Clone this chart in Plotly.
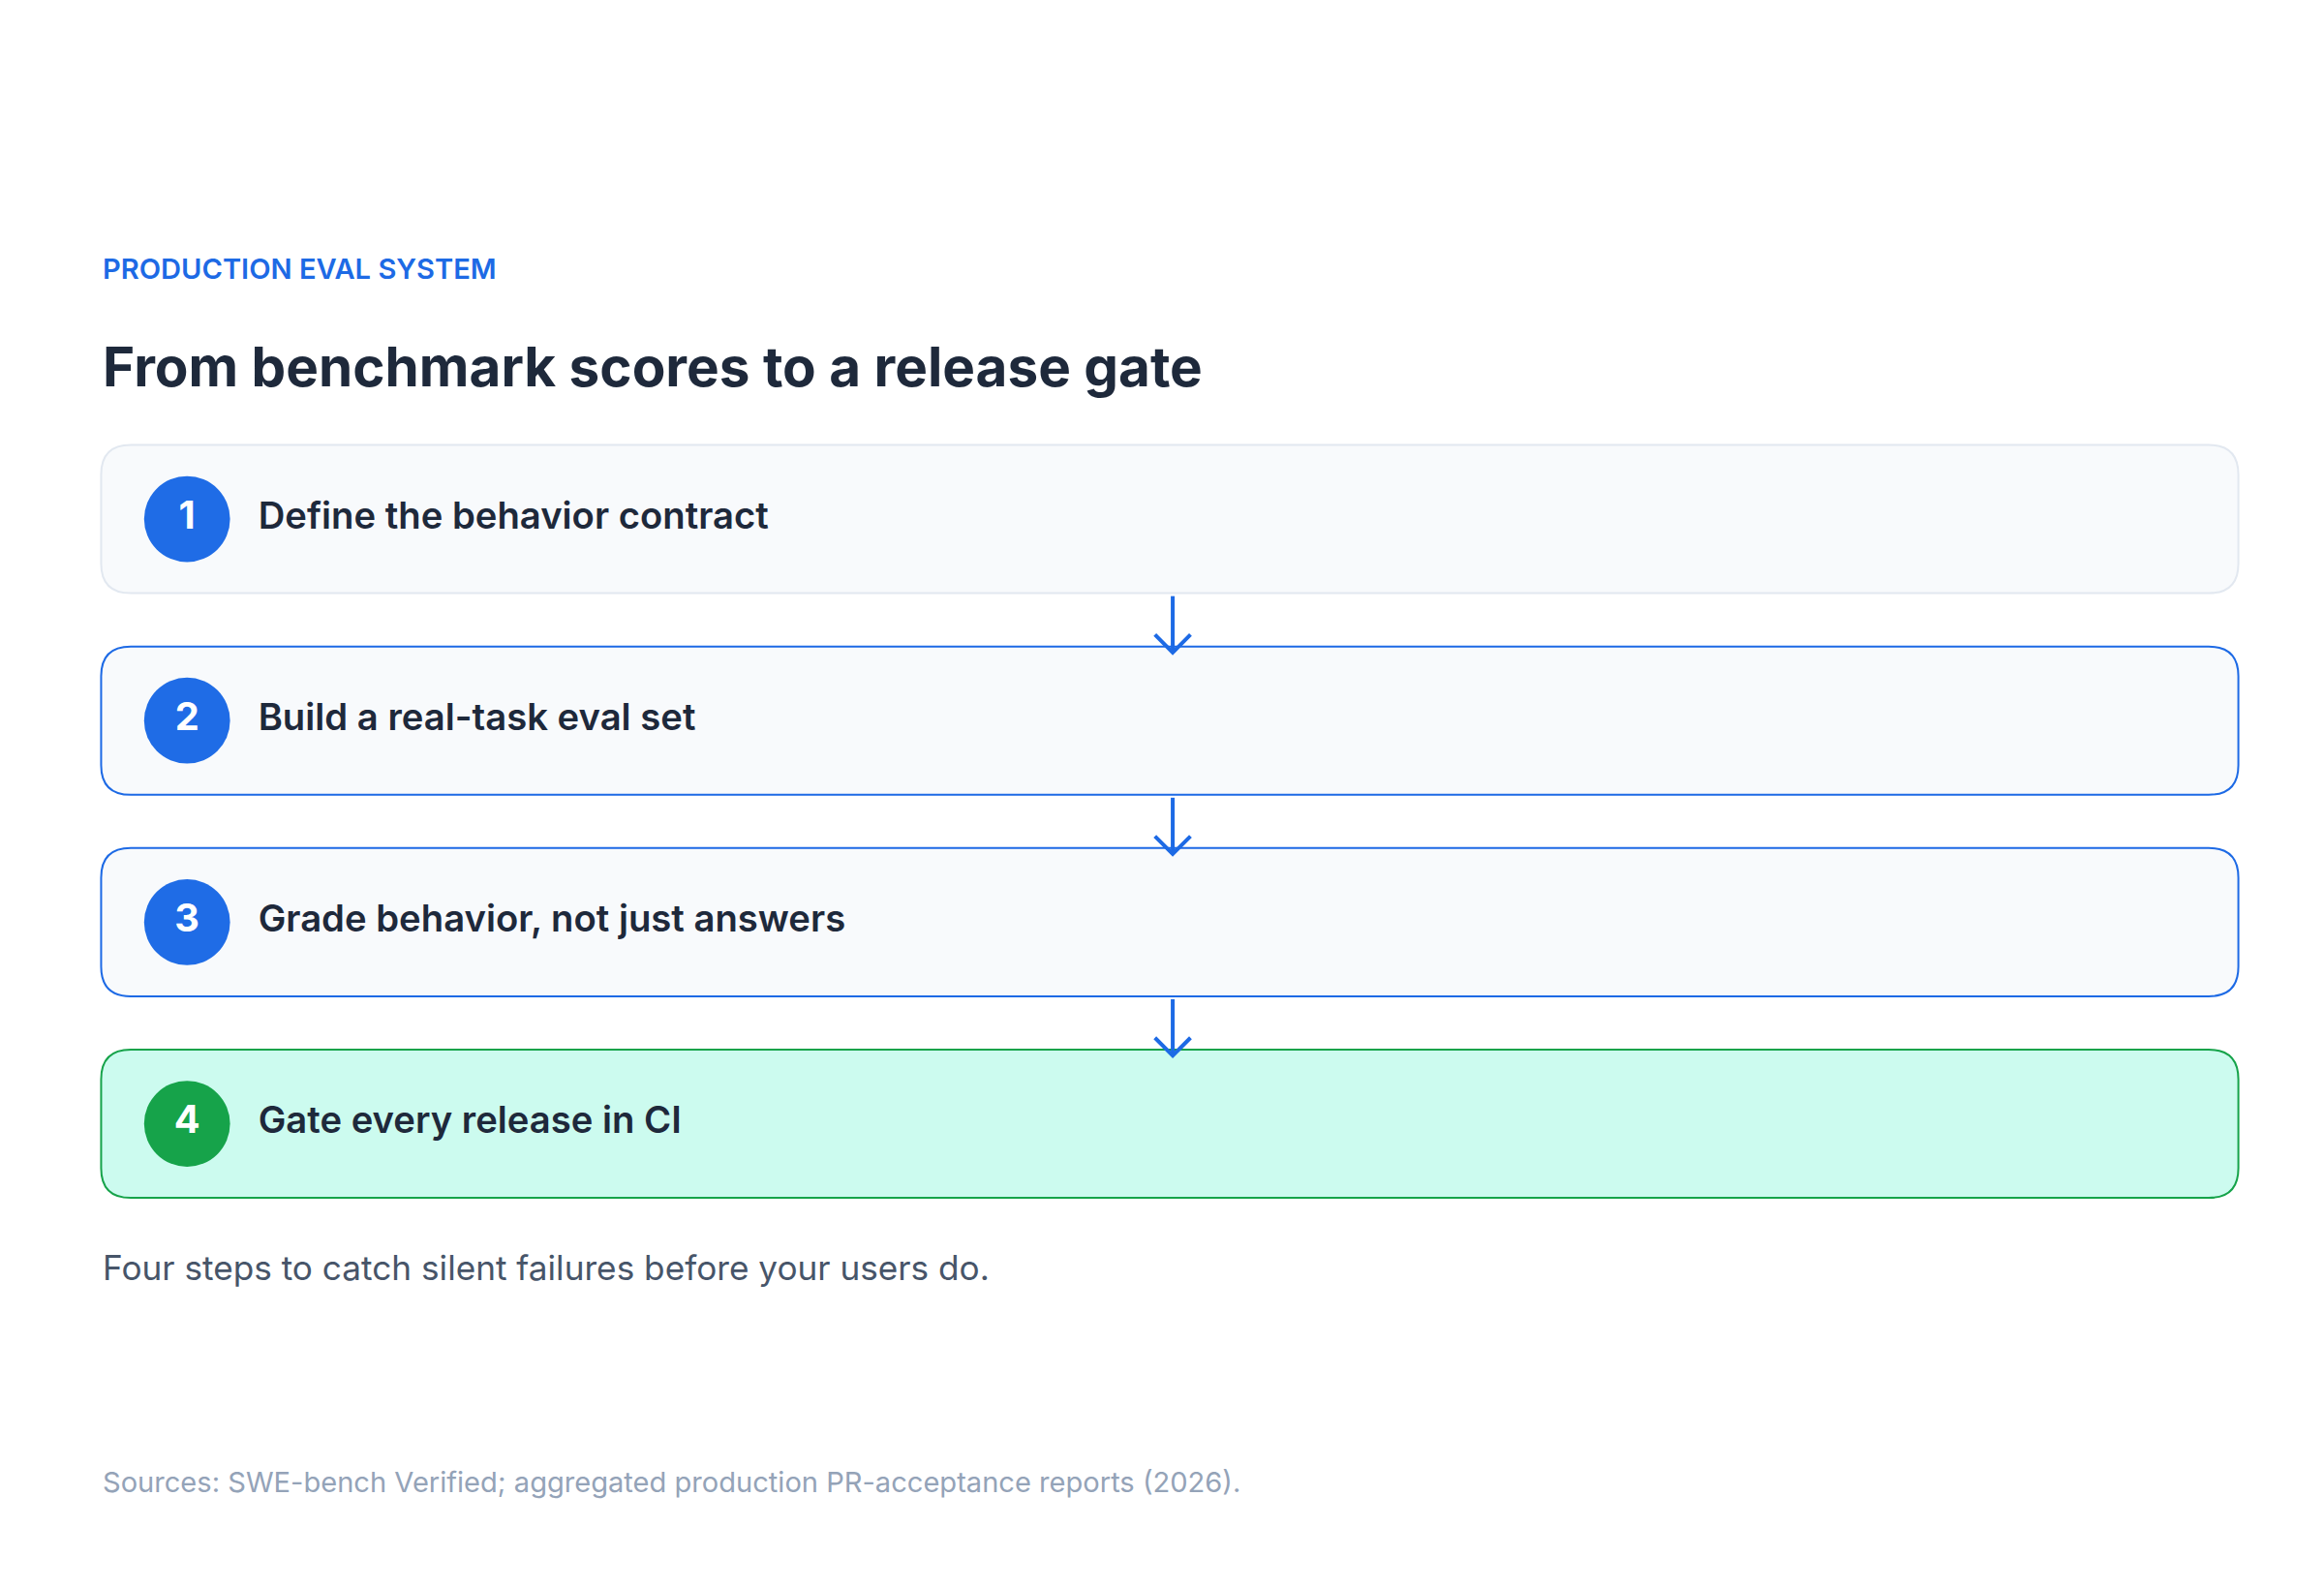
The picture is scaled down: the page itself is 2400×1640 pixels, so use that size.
import plotly.graph_objects as go

steps = ["1", "2", "3", "4"]
labels = ["Define the behavior contract", "Build a real-task eval set",
          "Grade behavior, not just answers", "Gate every release in CI"]
kicker = "PRODUCTION EVAL SYSTEM"
title = "From benchmark scores to a release gate"
subtitle = "Four steps to catch silent failures before your users do."
source = "Sources: SWE-bench Verified; aggregated production PR-acceptance reports (2026)."

W, H = 2400, 1640
s = W / 1568
box_top = [295, 431, 567, 703]
box_h = 100
x0, x1 = 63, 1505
fills = ["#f8fafc", "#f8fafc", "#f8fafc", "#ccfbef"]
borders = ["#e2e8f0", "#1d6ae5", "#1d6ae5", "#16a34a"]
circ = ["#1f6ce6", "#1f6ce6", "#1f6ce6", "#16a34a"]
font = "Inter, Noto Sans, sans-serif"

def rr(xa, ya, xb, yb, r):
    return (f"M{xa+r},{ya} L{xb-r},{ya} Q{xb},{ya} {xb},{ya+r} L{xb},{yb-r} Q{xb},{yb} {xb-r},{yb} "
            f"L{xa+r},{yb} Q{xa},{yb} {xa},{yb-r} L{xa},{ya+r} Q{xa},{ya} {xa+r},{ya} Z")

fig = go.Figure()
shapes = []
for i in range(4):
    t = box_top[i] * s
    shapes.append(dict(type="path", path=rr(x0*s, t, x1*s, t + box_h*s, 20*s),
                       fillcolor=fills[i], line=dict(color=borders[i], width=2), layer="below"))
    if i < 3:
        xa = 786 * s
        ya = (box_top[i] + box_h + 2) * s
        yb = (box_top[i+1] + 4) * s
        shapes.append(dict(type="line", x0=xa, x1=xa, y0=ya, y1=yb, line=dict(color="#1d6ae5", width=4)))
        shapes.append(dict(type="path", path=f"M{xa-12*s},{yb-12*s} L{xa},{yb} L{xa+12*s},{yb-12*s}",
                           line=dict(color="#1d6ae5", width=4)))

cy = [(t + box_h/2) * s for t in box_top]
fig.add_trace(go.Scatter(x=[121*s]*4, y=cy, mode="markers+text", text=steps,
                         marker=dict(size=58*s, color=circ, line=dict(width=0)),
                         textfont=dict(color="white", size=26*s, family=font, weight="bold"),
                         textposition="middle center", hoverinfo="skip"))
fig.add_trace(go.Scatter(x=[169*s]*4, y=cy, mode="text", text=labels,
                         textfont=dict(color="#1e293b", size=25*s, family=font, weight=600),
                         textposition="middle right", hoverinfo="skip"))

ann = [
    dict(text=kicker, x=63*s, y=176*s, font=dict(size=19*s, color="#1d6ae5", family=font, weight=600)),
    dict(text=title, x=63*s, y=242*s, font=dict(size=37*s, color="#1e293b", family=font, weight="bold")),
    dict(text=subtitle, x=63*s, y=850*s, font=dict(size=23*s, color="#475569", family=font)),
    dict(text=source, x=63*s, y=995*s, font=dict(size=19*s, color="#94a3b8", family=font)),
]
for a in ann:
    a.update(xref="x", yref="y", xanchor="left", yanchor="middle", showarrow=False)

fig.update_layout(width=W, height=H, margin=dict(l=0, r=0, t=0, b=0),
                  paper_bgcolor="white", plot_bgcolor="white", showlegend=False,
                  shapes=shapes, annotations=ann,
                  xaxis=dict(range=[0, W], visible=False, fixedrange=True),
                  yaxis=dict(range=[H, 0], visible=False, fixedrange=True))
fig.write_html("out.html", config={"displayModeBar": False})
